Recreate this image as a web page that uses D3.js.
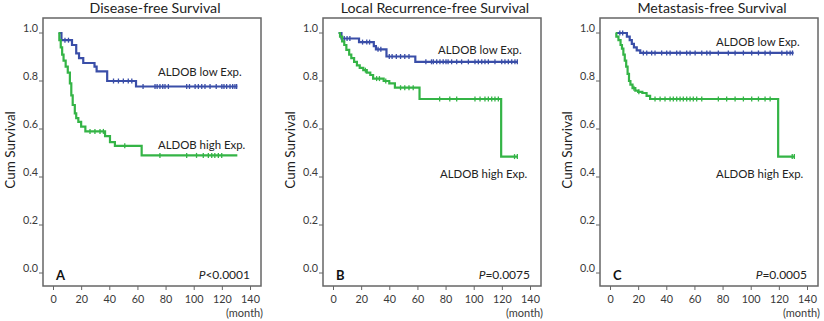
<!DOCTYPE html>
<html>
<head>
<meta charset="utf-8">
<script src="https://cdn.jsdelivr.net/npm/d3@7"></script>
<style>
  body { margin: 0; background: #fff; }
  text { font-family: Lato, "Open Sans", sans-serif; }
</style>
</head>
<body>
<svg width="824" height="321"></svg>
<script>
// panel titles, letters, p values
const titles = ["Disease-free Survival", "Local Recurrence-free Survival", "Metastasis-free Survival"];
const letters = ["A", "B", "C"];
const pValues = ["<0.0001", "=0.0075", "=0.0005"];

const xTicks = [0, 20, 40, 60, 80, 100, 120, 140];
const yTicks = [0.0, 0.2, 0.4, 0.6, 0.8, 1.0];

// Kaplan-Meier steps: [month, cum survival]
const dfsLow = [[4,1],[6,0.97],[13.5,0.95],[16.5,0.915],[18.5,0.895],[21.5,0.875],[29.5,0.86],[31,0.84],[38.5,0.80],[59,0.777]];
const dfsHigh = [[4,1],[4.5,0.97],[5.5,0.94],[6.5,0.91],[7.5,0.885],[9,0.86],[10.5,0.835],[12,0.79],[13,0.74],[14,0.70],[15.5,0.665],[16.5,0.645],[18,0.63],[20,0.61],[23,0.59],[37,0.57],[40.5,0.545],[44,0.53],[63,0.49]];
const lrfsLow = [[4,1],[6,0.977],[18.5,0.962],[29,0.945],[30.5,0.932],[38,0.902],[58.5,0.88]];
const lrfsHigh = [[4,1],[5,0.985],[6.5,0.965],[8,0.95],[9.5,0.93],[11.5,0.91],[13,0.895],[15,0.88],[17,0.865],[19,0.855],[21.5,0.845],[24,0.835],[26.5,0.825],[28.5,0.81],[36,0.80],[40,0.79],[44,0.772],[61.5,0.725],[119.5,0.485]];
const mfsLow = [[5,1],[12,0.985],[14,0.97],[15.5,0.955],[17,0.94],[19,0.928],[21.5,0.917]];
const mfsHigh = [[4,1],[4.5,0.985],[6,0.97],[7.5,0.95],[8.5,0.935],[9.5,0.91],[10.5,0.885],[11.5,0.86],[12.5,0.83],[13.5,0.80],[14.5,0.785],[16,0.77],[18,0.76],[20,0.755],[23,0.75],[26,0.738],[28.5,0.725],[119.5,0.485]];

// last follow-up month of each curve
const endTimes = [[131, 131], [131, 131], [130.5, 131.5]];

// censored times (months)
const dfsLowCens = [8.5, 11, 43, 46.5, 50, 53.5, 56, 64, 72.5, 74, 76, 78, 79.6, 82, 95, 97, 101, 103.3, 105.7, 108, 111.6, 116, 120, 121.5, 123.4, 125.8, 127.7, 129.3, 130.5];
const dfsHighCens = [26.3, 29.8, 33.4, 35.8, 51, 76, 95, 102, 106.8, 110.4, 112.8, 115, 117.5, 119.9];
const lrfsLowCens = [8, 10, 12, 21, 24, 26, 32, 34, 40, 42, 45, 48, 51, 54, 66, 70, 71.3, 73.7, 76, 78.3, 80.3, 81.8, 84.3, 87.9, 91.4, 96.2, 100.9, 103.3, 105.7, 108, 110.4, 115.1, 119.9, 122.2, 124.6, 127, 129.3, 131];
const lrfsHighCens = [23, 31, 33, 37.5, 48, 51, 54, 57, 75.8, 83, 87.9, 100.9, 104.5, 108, 110.4, 112.8, 115.1, 117.5, 129, 131];
const mfsLowCens = [7, 9, 23.7, 26.1, 29.6, 32, 36.7, 40.3, 42.7, 47.4, 49.8, 54.5, 56.9, 60.5, 65.2, 68.8, 71.1, 77, 84.1, 88.9, 94.8, 100.7, 105.5, 110.2, 113.8, 122.1, 125.7, 128, 129.7];
const mfsHighCens = [17, 20.5, 32, 35.6, 39.1, 42.7, 45, 47.4, 49.8, 52.1, 54.5, 56.9, 59.2, 61.6, 65.2, 77, 82.9, 88.9, 94.8, 100.7, 105.5, 110.2, 113.8, 129.5, 131];

const lowColor = "#3a4ea8";
const highColor = "#34b446";

const svg = d3.select("svg");

const panels = [
  { dx: 0,   low: dfsLow,  high: dfsHigh,  lowC: dfsLowCens,  highC: dfsHighCens,
    lowLab: [158, 76], highLab: [158, 149] },
  { dx: 280, low: lrfsLow, high: lrfsHigh, lowC: lrfsLowCens, highC: lrfsHighCens,
    lowLab: [158, 54], highLab: [160, 178] },
  { dx: 557, low: mfsLow,  high: mfsHigh,  lowC: mfsLowCens,  highC: mfsHighCens,
    lowLab: [159, 46], highLab: [159, 178] }
];

const x = d3.scaleLinear().domain([0, 140]).range([53, 250]);
const y = d3.scaleLinear().domain([0, 1]).range([273, 33]);

const line = d3.line()
    .x(d => x(d[0]))
    .y(d => y(d[1]))
    .curve(d3.curveStepAfter);

// survival at time t for a step list
function survAt(steps, t) {
    let s = steps[0][1];
    steps.forEach(p => { if (p[0] <= t) s = p[1]; });
    return s;
}

panels.forEach((p, i) => {
    const g = svg.append("g").attr("transform", `translate(${p.dx},0)`);

    // frame
    g.append("rect")
        .attr("x", 43).attr("y", 18)
        .attr("width", 218).attr("height", 268)
        .attr("fill", "none")
        .attr("stroke", "#666")
        .attr("stroke-width", 1.5);

    // title
    g.append("text")
        .attr("x", 155).attr("y", 13)
        .attr("text-anchor", "middle")
        .attr("font-size", 14.2)
        .attr("fill", "#222")
        .text(titles[i]);

    // y axis label
    g.append("text")
        .attr("transform", "translate(15,150) rotate(-90)")
        .attr("text-anchor", "middle")
        .attr("font-size", 13.5)
        .attr("fill", "#222")
        .text("Cum Survival");

    // y ticks
    const yAxis = g.append("g");
    yAxis.selectAll("line").data(yTicks).enter().append("line")
        .attr("x1", 39).attr("x2", 43)
        .attr("y1", d => y(d)).attr("y2", d => y(d))
        .attr("stroke", "#666").attr("stroke-width", 1);
    yAxis.selectAll("text").data(yTicks).enter().append("text")
        .attr("x", 38).attr("y", d => y(d) - 1)
        .attr("text-anchor", "end")
        .attr("font-size", 10.8)
        .attr("fill", "#3a3a3a")
        .text(d => d.toFixed(1));

    // x axis
    const xAxis = g.append("g").attr("transform", "translate(0,286)")
        .call(d3.axisBottom(x).tickValues(xTicks).tickSize(4).tickSizeOuter(0));
    xAxis.select(".domain").remove();
    xAxis.selectAll(".tick line").attr("stroke", "#666");
    xAxis.selectAll(".tick text")
        .attr("font-size", 10.8)
        .attr("fill", "#3a3a3a")
        .attr("dy", "0.9em")
        .attr("font-family", "Lato, 'Open Sans', sans-serif");

    g.append("text")
        .attr("x", 263).attr("y", 317)
        .attr("text-anchor", "end")
        .attr("font-size", 11)
        .attr("fill", "#3a3a3a")
        .text("(month)");

    // curves
    const curves = [
        { steps: p.low,  end: endTimes[i][0], cens: p.lowC,  color: lowColor },
        { steps: p.high, end: endTimes[i][1], cens: p.highC, color: highColor }
    ];
    curves.forEach(c => {
        const pts = c.steps.concat([[c.end, c.steps[c.steps.length - 1][1]]]);
        g.append("path")
            .datum(pts)
            .attr("d", line)
            .attr("fill", "none")
            .attr("stroke", c.color)
            .attr("stroke-width", 2.2);
        g.append("g").selectAll("line").data(c.cens).enter().append("line")
            .attr("x1", d => x(d)).attr("x2", d => x(d))
            .attr("y1", d => y(survAt(c.steps, d)) - 2.5)
            .attr("y2", d => y(survAt(c.steps, d)) + 2.5)
            .attr("stroke", c.color)
            .attr("stroke-width", 1.3);
    });

    // group labels
    g.append("text")
        .attr("x", p.lowLab[0]).attr("y", p.lowLab[1])
        .attr("font-size", 11.4)
        .attr("fill", "#222")
        .text("ALDOB low Exp.");
    g.append("text")
        .attr("x", p.highLab[0]).attr("y", p.highLab[1])
        .attr("font-size", 11.4)
        .attr("fill", "#222")
        .text("ALDOB high Exp.");

    // panel letter
    g.append("text")
        .attr("x", 56).attr("y", 280)
        .attr("font-size", 13)
        .attr("font-weight", "bold")
        .attr("fill", "#111")
        .text(letters[i]);

    // p value
    const pt = g.append("text")
        .attr("x", 250).attr("y", 279)
        .attr("text-anchor", "end")
        .attr("font-size", 12)
        .attr("fill", "#222");
    pt.append("tspan").attr("font-style", "italic").text("P");
    pt.append("tspan").text(pValues[i]);
});
</script>
</body>
</html>
